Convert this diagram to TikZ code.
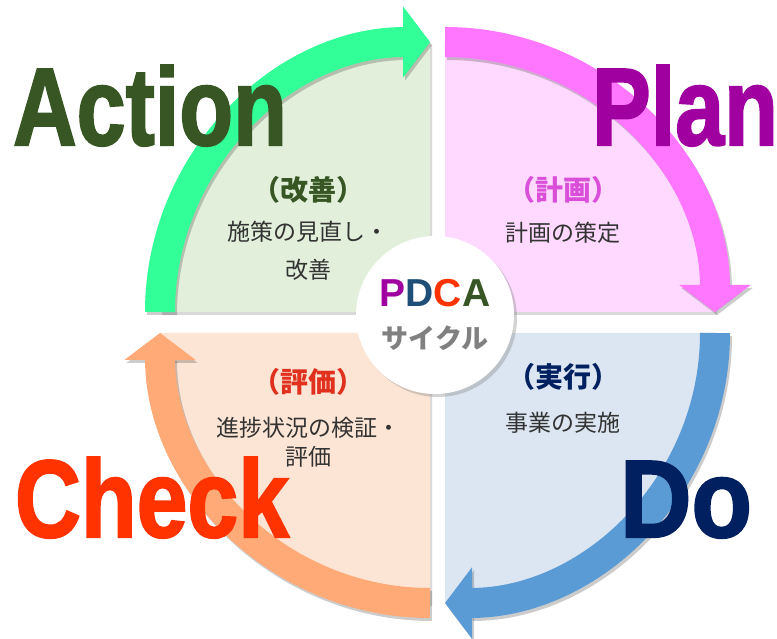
\documentclass[tikz,border=0pt]{standalone}
\usepackage{fontspec}
\setmainfont{Liberation Sans}
\newfontfamily\heavyfont{Liberation Sans}[BoldFeatures={FakeBold=2}]
\newfontfamily\jp{Noto Sans CJK JP}
\usetikzlibrary{arrows.meta,shadows}

\definecolor{actgreen}{HTML}{375623}
\definecolor{planpurple}{HTML}{A000A0}
\definecolor{checkred}{HTML}{FF3300}
\definecolor{donavy}{HTML}{002060}
\definecolor{pdcablue}{HTML}{1F4E79}
\definecolor{planhead}{HTML}{D94FD9}
\definecolor{checkhead}{HTML}{E0301E}
\definecolor{actfill}{HTML}{E2EFDA}
\definecolor{planfill}{HTML}{FFD9FF}
\definecolor{dofill}{HTML}{DCE6F2}
\definecolor{checkfill}{HTML}{FDE5D5}
\definecolor{actarrow}{HTML}{33FF99}
\definecolor{planarrow}{HTML}{FF77FF}
\definecolor{doarrow}{HTML}{5B9BD5}
\definecolor{checkarrow}{HTML}{FFAA77}

\def\rad{270pt}
\def\quarterfill[#1](#2)(#3:#4){\fill[quarter,#1] (#2) -- ++(#3:\rad) arc (#3:#4:\rad) -- cycle;}
\def\quarterarrow[#1](#2)(#3:#4){%
  \draw[cyclearrow, black, opacity=.2, shift={(2pt,-3pt)}] (#2) ++(#3:\rad) arc (#3:#4:\rad);
  \draw[cyclearrow, #1] (#2) ++(#3:\rad) arc (#3:#4:\rad);}

\tikzset{
  cyclearrow/.style={line width=30pt, -{Triangle[length=27pt,width=70pt]}},
  quarter/.style={drop shadow={shadow xshift=2pt,shadow yshift=-3pt,opacity=.3}},
  bigword/.style={font=\heavyfont\fontsize{110}{110}\selectfont\bfseries, anchor=base, inner sep=0pt},
  headjp/.style={font=\jp\bfseries\fontsize{28}{28}\selectfont},
  bodyjp/.style={font=\jp\fontsize{23}{29}\selectfont, text=black!80, align=center},
  hub/.style={circle, fill=white, minimum size=158pt, inner sep=0pt,
    drop shadow={shadow xshift=3pt,shadow yshift=-3pt,opacity=.35}},
}

\begin{document}
\begin{tikzpicture}[x=1pt,y=1pt]
	\useasboundingbox (0,0) rectangle (777,639);
	%%%%% QUARTERS %%%%%
	\quarterfill[actfill](430,327)(180:90)
	\quarterfill[planfill](445,327)(90:0)
	\quarterfill[dofill](445,306)(0:-90)
	\quarterfill[checkfill](430,306)(270:180)
	
	%%%%% ARROWS %%%%%
	\quarterarrow[actarrow](430,327)(180:90)
	\quarterarrow[planarrow](445,327)(90:0)
	\quarterarrow[doarrow](445,306)(0:-90)
	\quarterarrow[checkarrow](430,306)(270:180)
	
	%%%%% HUB %%%%%
	\node[hub] (hub) at (435,324) {};
	\node[font=\fontsize{39}{39}\selectfont\bfseries] (pdca) at (435,346)
		{\textcolor{planpurple}{P}\textcolor{pdcablue}{D}\textcolor{checkred}{C}\textcolor{actgreen}{A}};
	\node[font=\jp\bfseries\fontsize{27}{27}\selectfont, text=black!50] (cycle) at (435,301) {サイクル};
	
	%%%%% TEXTS %%%%%
	\node[headjp, text=actgreen] (acthead) at (308,449) {（改善）};
	\node[bodyjp] (actbody) at (308,388) {施策の見直し・\\[9pt]改善};
	\node[headjp, text=planhead] (planhead) at (563,449) {（計画）};
	\node[bodyjp] (planbody) at (563,406) {計画の策定};
	\node[headjp, text=donavy] (dohead) at (563,262) {（実行）};
	\node[bodyjp] (dobody) at (563,216) {事業の実施};
	\node[headjp, text=checkhead] (checkhead) at (308,257) {（評価）};
	\node[bodyjp] (checkbody) at (308,197) {進捗状況の検証・\\評価};
	
	%%%%% WORDS %%%%%
	\node[bigword, text=actgreen] (action) at (150,494) {\scalebox{0.8}[1]{Action}};
	\node[bigword, text=planpurple] (plan) at (685,494) {\scalebox{0.8}[1]{Plan}};
	\node[bigword, text=checkred] (check) at (152,102) {\scalebox{0.83}[1]{Check}};
	\node[bigword, text=donavy] (do) at (686,102) {\scalebox{0.9}[1]{Do}};
\end{tikzpicture}
\end{document}
